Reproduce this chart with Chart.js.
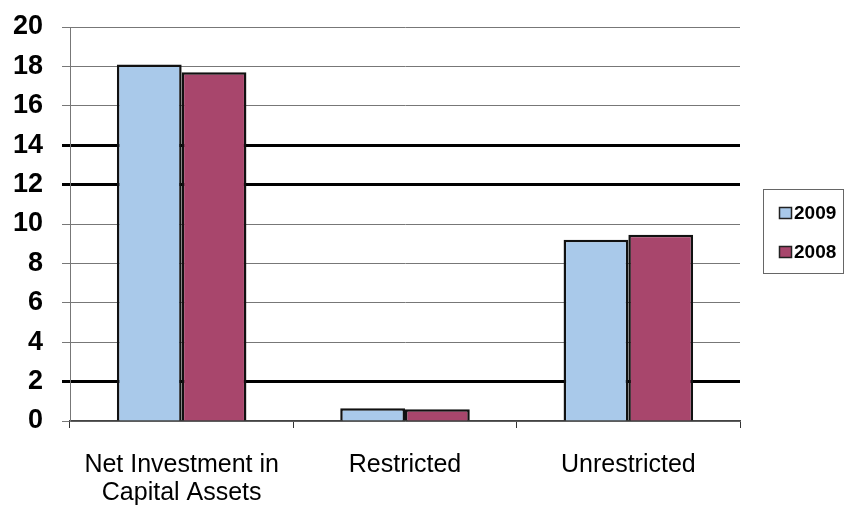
<!DOCTYPE html>
<html>
<head>
<meta charset="utf-8">
<script src="https://cdn.jsdelivr.net/npm/chart.js@4/dist/chart.umd.min.js"></script>
<style>
  html, body { margin: 0; padding: 0; background: #fff; }
</style>
</head>
<body>
<canvas id="grafico" width="850" height="505"></canvas>
<script>
// dados
var categorias = [['Net Investment in', 'Capital Assets'], 'Restricted', 'Unrestricted'];
var valores2009 = [18.1, 0.65, 9.2];
var valores2008 = [17.7, 0.6, 9.45];
var ticksY = [0, 2, 4, 6, 8, 10, 12, 14, 16, 18, 20];
var linhasGrossas = [2, 12, 14];

// legenda desenhada à mão, com moldura, à direita do gráfico
var legendaCaixa = {
    id: 'legendaCaixa',
    afterDraw: function (chart) {
        var ctx = chart.ctx;
        var area = chart.chartArea;
        var x = area.right + 23;
        var y = 189;
        var w = 80, h = 84;
        ctx.save();
        ctx.fillStyle = '#fff';
        ctx.fillRect(x, y, w, h);
        ctx.strokeStyle = '#666';
        ctx.lineWidth = 1;
        ctx.strokeRect(x + 0.5, y + 0.5, w, h);
        ctx.font = 'bold 19px "Liberation Sans"';
        ctx.textBaseline = 'middle';
        chart.data.datasets.forEach(function (ds, i) {
            var cy = y + 24 + i * 39;
            ctx.fillStyle = ds.backgroundColor;
            ctx.fillRect(x + 16, cy - 6, 13, 12);
            ctx.strokeStyle = '#222';
            ctx.lineWidth = 1.5;
            ctx.strokeRect(x + 16.5, cy - 5.5, 12, 11);
            ctx.fillStyle = '#000';
            ctx.fillText(ds.label, x + 31, cy + 1);
        });
        ctx.restore();
    }
};

var ctx = document.getElementById('grafico').getContext('2d');
new Chart(ctx, {
    type: 'bar',
    data: {
        labels: categorias,
        datasets: [{
            label: '2009',
            data: valores2009,
            backgroundColor: '#a9c9ea',
            borderColor: '#111',
            borderWidth: 2.5
        }, {
            label: '2008',
            data: valores2008,
            backgroundColor: '#a8466c',
            borderColor: '#111',
            borderWidth: 2.5
        }]
    },
    options: {
        responsive: false,
        animation: false,
        devicePixelRatio: 1,
        layout: { padding: { top: 27, right: 110, left: 12, bottom: 0 } },
        datasets: {
            bar: { categoryPercentage: 0.58, barPercentage: 1 }
        },
        plugins: {
            tooltip: { enabled: false },
            legend: { display: false }
        },
        scales: {
            x: {
                afterFit: function (axis) { axis.height = 84; },
                grid: {
                    offset: true,
                    drawOnChartArea: false,
                    drawTicks: true,
                    tickLength: 7,
                    color: '#333'
                },
                border: { color: '#444', width: 1.5 },
                ticks: {
                    color: '#000',
                    font: { family: 'Liberation Sans', size: 25, lineHeight: 1.12 },
                    padding: 23
                }
            },
            y: {
                min: 0,
                max: 20,
                afterBuildTicks: function (axis) {
                    axis.ticks = ticksY.map(function (v) { return { value: v }; });
                },
                afterFit: function (axis) {
                    axis.width = 58;
                    axis.paddingTop = 0;
                    axis.paddingBottom = 0;
                },
                grid: {
                    color: function (c) {
                        return linhasGrossas.indexOf(c.tick.value) >= 0 ? '#000' : '#777';
                    },
                    lineWidth: function (c) {
                        return linhasGrossas.indexOf(c.tick.value) >= 0 ? 3 : 1;
                    },
                    tickLength: 8
                },
                border: { color: '#777', width: 1 },
                ticks: {
                    color: '#000',
                    font: { family: 'Liberation Sans', size: 27, weight: 'bold', lineHeight: 1 },
                    padding: 19
                }
            }
        }
    },
    plugins: [legendaCaixa]
});
</script>
</body>
</html>
